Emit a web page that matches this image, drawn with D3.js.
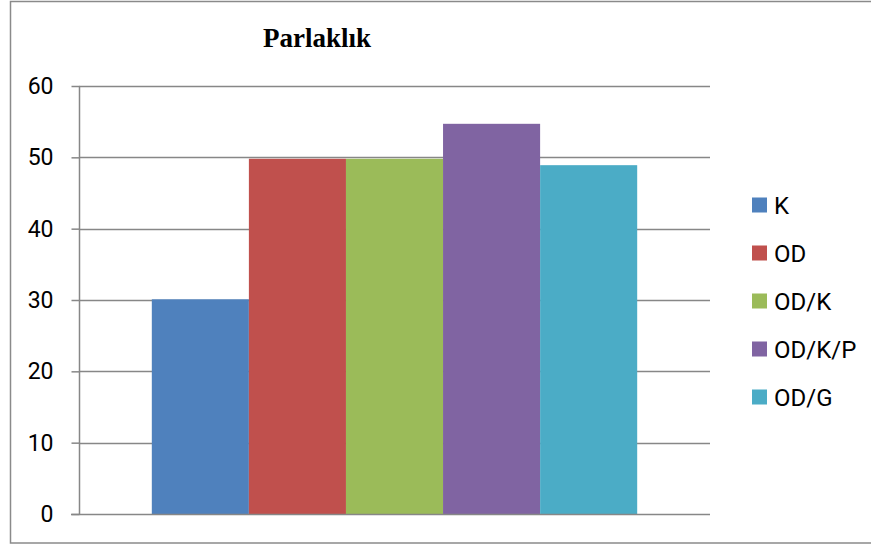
<!DOCTYPE html>
<html>
<head>
<meta charset="utf-8">
<script src="https://cdn.jsdelivr.net/npm/d3@7"></script>
<style>
  html, body { margin: 0; padding: 0; background: #fff; }
  svg { display: block; }
</style>
</head>
<body>
<script>
// Chart data
const categories = ["Parlaklık"];
const seriesNames = ["K", "OD", "OD/K", "OD/K/P", "OD/G"];
const seriesValues = [30.1, 49.8, 49.8, 54.7, 48.9];
const seriesColors = ["#4F81BD", "#C0504D", "#9BBB59", "#8064A2", "#4BACC6"];
const yTicks = [0, 10, 20, 30, 40, 50, 60];

const W = 871, H = 547;
const plot = { left: 79, right: 710, top: 86, bottom: 514 };

const svg = d3.select("body").append("svg")
  .attr("width", W).attr("height", H);

// outer chart frame
svg.append("rect")
  .attr("x", 10.5).attr("y", 1.5)
  .attr("width", 880).attr("height", 541.5)
  .attr("fill", "#fff")
  .attr("stroke", "#8a8a8a").attr("stroke-width", 1.5);

const y = d3.scaleLinear().domain([0, 60]).range([plot.bottom, plot.top]);

const x0 = d3.scaleBand().domain(categories)
  .range([plot.left, plot.right]).paddingInner(0).paddingOuter(0);

// gap width of 150% of a bar on each category edge
const x1 = d3.scaleBand().domain(seriesNames)
  .range([0, x0.bandwidth()]).paddingInner(0).paddingOuter(0.75);

// horizontal gridlines
svg.append("g")
  .selectAll("line")
  .data(yTicks.filter(d => d > 0))
  .join("line")
  .attr("x1", plot.left).attr("x2", plot.right)
  .attr("y1", d => Math.round(y(d)) + 0.5).attr("y2", d => Math.round(y(d)) + 0.5)
  .attr("stroke", "#878787").attr("stroke-width", 1.5);

// bars
const g = svg.append("g");
categories.forEach(cat => {
  g.selectAll(null)
    .data(seriesNames.map((s, i) => ({ s, v: seriesValues[i], c: seriesColors[i] })))
    .join("rect")
    .attr("x", d => x0(cat) + x1(d.s))
    .attr("width", x1.bandwidth())
    .attr("y", d => y(d.v))
    .attr("height", d => y(0) - y(d.v))
    .attr("fill", d => d.c);
});

// y axis
const yAxis = d3.axisLeft(y).tickValues(yTicks).tickSize(8).tickPadding(18)
  .tickFormat(d3.format("d"));
const ya = svg.append("g")
  .attr("transform", `translate(${plot.left + 0.5},0)`)
  .call(yAxis);
ya.select(".domain").attr("stroke", "#878787").attr("stroke-width", 1.5)
  .attr("d", `M0,${plot.top}V${plot.bottom}`);
ya.selectAll(".tick line").attr("stroke", "#878787").attr("stroke-width", 1.5);
ya.selectAll(".tick text")
  .attr("fill", "#000")
  .style("font-family", "Roboto, 'Open Sans', sans-serif")
  .style("font-size", "23px");

// x axis baseline
svg.append("line")
  .attr("x1", plot.left - 8).attr("x2", plot.right)
  .attr("y1", Math.round(y(0)) + 0.5).attr("y2", Math.round(y(0)) + 0.5)
  .attr("stroke", "#878787").attr("stroke-width", 1.5);

// title
svg.append("text")
  .attr("x", 317).attr("y", 47)
  .attr("text-anchor", "middle")
  .style("font-family", "'Liberation Serif', 'Times New Roman', serif")
  .style("font-weight", "bold")
  .style("font-size", "27px")
  .text(categories[0]);

// legend
const legend = svg.append("g").attr("transform", "translate(752,205)");
const item = legend.selectAll("g")
  .data(seriesNames)
  .join("g")
  .attr("transform", (d, i) => `translate(0,${i * 48})`);
item.append("rect")
  .attr("x", 0).attr("y", -7.5)
  .attr("width", 15).attr("height", 15)
  .attr("fill", (d, i) => seriesColors[i]);
item.append("text")
  .attr("x", 22).attr("y", 0)
  .attr("dy", "0.36em")
  .style("font-family", "Roboto, 'Open Sans', sans-serif")
  .style("font-size", "24px")
  .attr("fill", "#000")
  .text(d => d);
</script>
</body>
</html>
